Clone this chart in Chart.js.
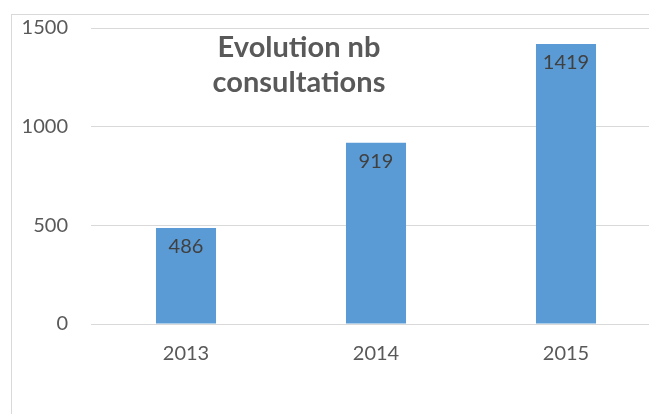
<!DOCTYPE html>
<html>
<head>
<meta charset="utf-8">
<script src="https://cdn.jsdelivr.net/npm/chart.js@4/dist/chart.umd.min.js"></script>
<style>
html,body{margin:0;padding:0;background:#fff;overflow:hidden;}
#wrap{position:absolute;left:0;top:0;width:649px;height:414px;overflow:hidden;}
#box{position:absolute;left:0;top:0;width:680px;height:414px;}
</style>
</head>
<body>
<div id="wrap"><div id="box"><canvas id="c" width="680" height="414"></canvas></div></div>
<script>
const categories = ["2013", "2014", "2015"];
const consultations = [486, 919, 1419];
const titleLines = ["Evolution nb", "consultations"];
const yTicks = [0, 500, 1000, 1500];

const FONT = "Lato, 'Open Sans', sans-serif";

const frame = {
  id: 'frame',
  beforeDraw(chart) {
    const ctx = chart.ctx;
    ctx.save();
    ctx.strokeStyle = '#D9D9D9';
    ctx.lineWidth = 1;
    ctx.strokeRect(11.5, 14.5, chart.width + 20, chart.height + 20);
    ctx.restore();
  }
};

const titlePlugin = {
  id: 'titleText',
  afterDatasetsDraw(chart) {
    const ctx = chart.ctx, a = chart.chartArea;
    ctx.save();
    ctx.fillStyle = '#595959';
    ctx.font = "bold 29px " + FONT;
    ctx.textAlign = 'center';
    ctx.textBaseline = 'alphabetic';
    const cx = a.left + 208;
    titleLines.forEach((t, i) => ctx.fillText(t, cx, a.top + 28.5 + i * 35));
    ctx.restore();
  }
};

const labelPlugin = {
  id: 'barLabels',
  afterDatasetsDraw(chart) {
    const ctx = chart.ctx;
    const meta = chart.getDatasetMeta(0);
    ctx.save();
    ctx.fillStyle = '#404040';
    ctx.font = "20px " + FONT;
    ctx.textAlign = 'center';
    ctx.textBaseline = 'alphabetic';
    meta.data.forEach((bar, i) => {
      ctx.fillText(String(consultations[i]), bar.x, bar.y + 25);
    });
    ctx.restore();
  }
};

new Chart(document.getElementById('c'), {
  type: 'bar',
  data: {
    labels: categories,
    datasets: [{
      data: consultations,
      backgroundColor: '#5B9BD5',
      borderWidth: 0,
      categoryPercentage: 1,
      barPercentage: 0.316
    }]
  },
  options: {
    responsive: false,
    animation: false,
    devicePixelRatio: 1,
    layout: { padding: { left: 0, top: 28, right: 19, bottom: 30 } },
    plugins: { legend: { display: false }, tooltip: { enabled: false }, title: { display: false } },
    scales: {
      x: {
        grid: { display: false, drawTicks: false },
        border: { display: false },
        ticks: { color: '#595959', font: { family: FONT, size: 20 }, padding: 18 }
      },
      y: {
        min: 0, max: 1500,
        afterFit(scale) { scale.width = 91; scale.paddingTop = 0; scale.paddingBottom = 0; },
        afterBuildTicks(scale) { scale.ticks = yTicks.map(v => ({ value: v })); },
        grid: { color: '#D9D9D9', lineWidth: 1, drawTicks: false },
        border: { display: false },
        ticks: { color: '#595959', font: { family: FONT, size: 20 }, padding: 23, callback: (v) => String(v) }
      }
    }
  },
  plugins: [frame, titlePlugin, labelPlugin]
});
</script>
</body>
</html>
